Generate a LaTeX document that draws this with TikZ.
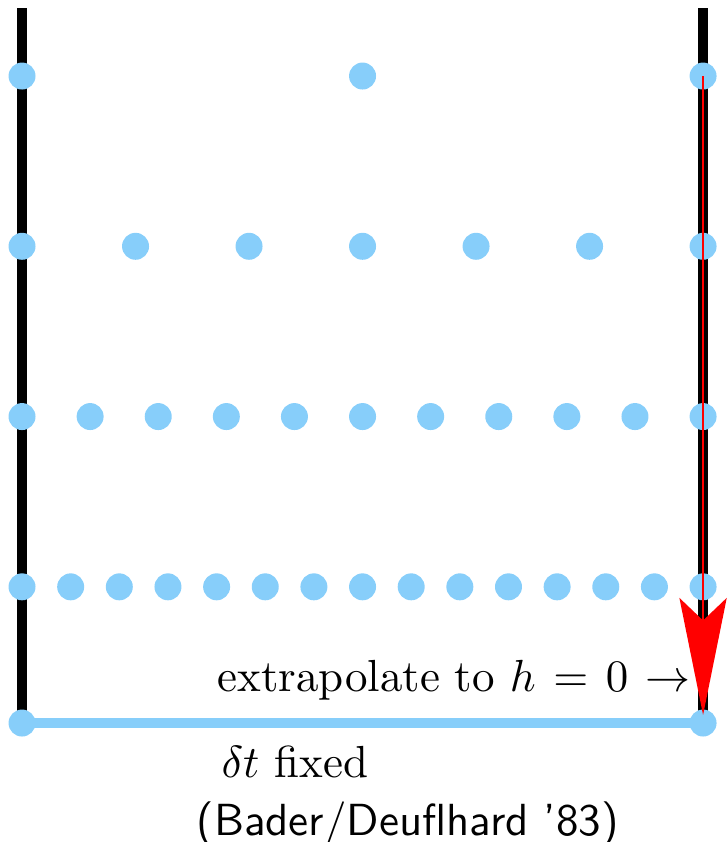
\documentclass[tikz,border=0pt]{standalone}
\usetikzlibrary{arrows.meta}
\definecolor{gridsky}{RGB}{135,206,250}
\definecolor{gridred}{RGB}{255,0,0}
\tikzset{
  time line/.style={draw=black, line width=2.4pt},
  base line/.style={draw=gridsky, line width=2.4pt},
  grid point/.style={circle, fill=gridsky, inner sep=0pt, minimum size=6pt},
  extrapolation/.style={draw=gridred, line width=0.5pt,
    -{Stealth[length=26pt, width=10.5pt, inset=5pt]}},
  note label/.style={anchor=base west, inner sep=0pt, text=black},
}

\begin{document}
\begin{tikzpicture}[x=0.887cm, y=0.887cm]
  \useasboundingbox (-0.194,-1.048) rectangle (6.211,6.37);

  \coordinate (left bottom) at (0,0);
  \coordinate (right bottom) at (6,0);
  \coordinate (left top) at (0,6.3);
  \coordinate (right top) at (6,6.3);
  \draw[time line] (left bottom) -- (left top);
  \draw[time line] (right bottom) -- (right top);
  \draw[base line] (left bottom) -- (right bottom);

  % rows of steps, finer towards the bottom
  \foreach \row/\n/\y in {1/2/5.7, 2/6/4.2, 3/10/2.7, 4/14/1.2} {
    \foreach \i in {0,...,\n} {
      \node[grid point] (p\row-\i) at ({6*\i/\n},\y) {};
    }
  }
  \node[grid point] (b-0) at (left bottom) {};
  \node[grid point] (b-1) at (right bottom) {};

  \draw[extrapolation, shorten >=1.8pt] (p1-2.center) -- (b-1.center);

  \node[anchor=base east, inner sep=0pt] (extra) at (5.90,0.28)
    {\thickmuskip=7mu extrapolate to $h=0\rightarrow$};
  \node[note label] (fixed) at (1.75,-0.476) {$\delta t$ fixed};
  \node[note label] (cite) at (1.53,-0.987) {\sffamily(Bader/Deuflhard '83)};
\end{tikzpicture}
\end{document}
